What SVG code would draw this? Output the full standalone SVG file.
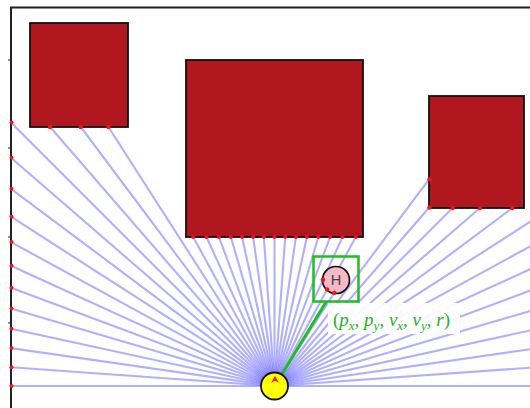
<svg xmlns="http://www.w3.org/2000/svg" width="530" height="408" viewBox="0 0 530 408">
<style>
.ray{stroke:#5050ff;stroke-opacity:0.45;stroke-width:2.1;fill:none}
.hit{fill:#ff1010}
.obs{fill:#b0171f;stroke:#111;stroke-width:1.8}
.frame{stroke:#222;stroke-width:2;fill:none}
.lbl{font-family:"Liberation Serif","DejaVu Serif",serif;font-style:italic;fill:#22b522}
</style>
<rect width="530" height="408" fill="#fff"/>
<g id="frame">
<path class="frame" d="M11,408 V7.5 H530"/>
<path stroke="#222" stroke-width="1.2" d="M8,60 H11 M8,148 H11 M8,237 H11 M8,323 H11"/>
</g>
<g id="rays">
<line class="ray" x1="274.5" y1="386" x2="540" y2="386"/>
<line class="ray" x1="274.5" y1="386" x2="540" y2="367"/>
<line class="ray" x1="274.5" y1="386" x2="540" y2="347.8"/>
<line class="ray" x1="274.5" y1="386" x2="540" y2="328.3"/>
<line class="ray" x1="274.5" y1="386" x2="540" y2="308.1"/>
<line class="ray" x1="274.5" y1="386" x2="540" y2="287"/>
<line class="ray" x1="274.5" y1="386" x2="540" y2="264.7"/>
<line class="ray" x1="274.5" y1="386" x2="540" y2="241"/>
<line class="ray" x1="274.5" y1="386" x2="540" y2="215.4"/>
<line class="ray" x1="274.5" y1="386" x2="512.3" y2="208"/>
<line class="ray" x1="274.5" y1="386" x2="479.9" y2="208"/>
<line class="ray" x1="274.5" y1="386" x2="452.5" y2="208"/>
<line class="ray" x1="274.5" y1="386" x2="429" y2="207.7"/>
<line class="ray" x1="274.5" y1="386" x2="429" y2="179.4"/>
<line class="ray" x1="274.5" y1="386" x2="334.3" y2="292.9"/>
<line class="ray" x1="274.5" y1="386" x2="355.8" y2="237"/>
<line class="ray" x1="274.5" y1="386" x2="342.5" y2="237"/>
<line class="ray" x1="274.5" y1="386" x2="330.1" y2="237"/>
<line class="ray" x1="274.5" y1="386" x2="318.3" y2="237"/>
<line class="ray" x1="274.5" y1="386" x2="306.9" y2="237"/>
<line class="ray" x1="274.5" y1="386" x2="295.9" y2="237"/>
<line class="ray" x1="274.5" y1="386" x2="285.2" y2="237"/>
<line class="ray" x1="274.5" y1="386" x2="274.5" y2="237"/>
<line class="ray" x1="274.5" y1="386" x2="263.8" y2="237"/>
<line class="ray" x1="274.5" y1="386" x2="253.1" y2="237"/>
<line class="ray" x1="274.5" y1="386" x2="242.1" y2="237"/>
<line class="ray" x1="274.5" y1="386" x2="230.8" y2="237"/>
<line class="ray" x1="274.5" y1="386" x2="218.9" y2="237"/>
<line class="ray" x1="274.5" y1="386" x2="206.5" y2="237"/>
<line class="ray" x1="274.5" y1="386" x2="193.2" y2="237"/>
<line class="ray" x1="274.5" y1="386" x2="108.4" y2="127"/>
<line class="ray" x1="274.5" y1="386" x2="80.8" y2="127"/>
<line class="ray" x1="274.5" y1="386" x2="50.1" y2="127"/>
<line class="ray" x1="274.5" y1="386" x2="11" y2="122.5"/>
<line class="ray" x1="274.5" y1="386" x2="11" y2="157.7"/>
<line class="ray" x1="274.5" y1="386" x2="11" y2="188.8"/>
<line class="ray" x1="274.5" y1="386" x2="11" y2="216.7"/>
<line class="ray" x1="274.5" y1="386" x2="11" y2="242.1"/>
<line class="ray" x1="274.5" y1="386" x2="11" y2="265.7"/>
<line class="ray" x1="274.5" y1="386" x2="11" y2="287.7"/>
<line class="ray" x1="274.5" y1="386" x2="11" y2="308.6"/>
<line class="ray" x1="274.5" y1="386" x2="11" y2="328.7"/>
<line class="ray" x1="274.5" y1="386" x2="11" y2="348.1"/>
<line class="ray" x1="274.5" y1="386" x2="11" y2="367.2"/>
<line class="ray" x1="274.5" y1="386" x2="11" y2="386"/>
</g>
<g id="obstacle1"><rect class="obs" x="30" y="23" width="98" height="104"/></g>
<g id="obstacle2"><rect class="obs" x="186" y="60" width="177" height="177"/></g>
<g id="obstacle3"><rect class="obs" x="429" y="96" width="95" height="112"/></g>
<g id="human">
<circle cx="336" cy="280" r="13.5" fill="#f6b9c6" stroke="#111" stroke-width="1.7"/>
<text x="336" y="285.3" text-anchor="middle" font-family="Liberation Sans, Arial, sans-serif" font-size="14.5" fill="#444">H</text>
</g>
<g id="hits">
<circle class="hit" cx="512.3" cy="208" r="2.2"/>
<circle class="hit" cx="479.9" cy="208" r="2.2"/>
<circle class="hit" cx="452.5" cy="208" r="2.2"/>
<circle class="hit" cx="429.5" cy="207.5" r="2.2"/>
<circle class="hit" cx="429.5" cy="179.4" r="2.2"/>
<circle class="hit" cx="334.3" cy="292.9" r="2.2"/>
<circle class="hit" cx="327.1" cy="289.5" r="2.2"/>
<circle class="hit" cx="323" cy="279.8" r="2.2"/>
<circle class="hit" cx="355.8" cy="237" r="2"/>
<circle class="hit" cx="342.5" cy="237" r="2"/>
<circle class="hit" cx="330.1" cy="237" r="2"/>
<circle class="hit" cx="318.3" cy="237" r="2"/>
<circle class="hit" cx="306.9" cy="237" r="2"/>
<circle class="hit" cx="295.9" cy="237" r="2"/>
<circle class="hit" cx="285.2" cy="237" r="2"/>
<circle class="hit" cx="274.5" cy="237" r="2"/>
<circle class="hit" cx="263.8" cy="237" r="2"/>
<circle class="hit" cx="253.1" cy="237" r="2"/>
<circle class="hit" cx="242.1" cy="237" r="2"/>
<circle class="hit" cx="230.8" cy="237" r="2"/>
<circle class="hit" cx="218.9" cy="237" r="2"/>
<circle class="hit" cx="206.5" cy="237" r="2"/>
<circle class="hit" cx="193.2" cy="237" r="2"/>
<circle class="hit" cx="108.4" cy="127" r="2.2"/>
<circle class="hit" cx="80.8" cy="127" r="2.2"/>
<circle class="hit" cx="50.1" cy="127" r="2.2"/>
<circle class="hit" cx="11.5" cy="122.5" r="2"/>
<circle class="hit" cx="11.5" cy="157.7" r="2"/>
<circle class="hit" cx="11.5" cy="188.8" r="2"/>
<circle class="hit" cx="11.5" cy="216.7" r="2"/>
<circle class="hit" cx="11.5" cy="242.1" r="2"/>
<circle class="hit" cx="11.5" cy="265.7" r="2"/>
<circle class="hit" cx="11.5" cy="287.7" r="2"/>
<circle class="hit" cx="11.5" cy="308.6" r="2"/>
<circle class="hit" cx="11.5" cy="328.7" r="2"/>
<circle class="hit" cx="11.5" cy="348.1" r="2"/>
<circle class="hit" cx="11.5" cy="367.2" r="2"/>
<circle class="hit" cx="11.5" cy="386" r="2"/>
</g>
<g id="connectors">
<line x1="282" y1="374" x2="326" y2="302" stroke="#1fbf1f" stroke-width="3"/>
</g>
<g id="selection"><rect x="313.5" y="256.5" width="45" height="45" fill="none" stroke="#1fbf1f" stroke-width="2.5"/></g>
<g id="label">
<rect x="328" y="303" width="132" height="31" fill="#fff" opacity="0.92"/>
<text class="lbl" x="333" y="326" font-size="19"><tspan font-style="normal">(</tspan>p<tspan font-size="13" dy="4">x</tspan><tspan dy="-4">, p</tspan><tspan font-size="13" dy="4">y</tspan><tspan dy="-4">, v</tspan><tspan font-size="13" dy="4">x</tspan><tspan dy="-4">, v</tspan><tspan font-size="13" dy="4">y</tspan><tspan dy="-4">, r</tspan><tspan font-style="normal">)</tspan></text>
</g>
<g id="robot">
<circle cx="274.5" cy="386" r="13.5" fill="#ffff00" stroke="#111" stroke-width="1.8"/>
<polygon points="275,376 279,383 275,380.5 271,383" fill="#ee1111"/>
</g>
</svg>
